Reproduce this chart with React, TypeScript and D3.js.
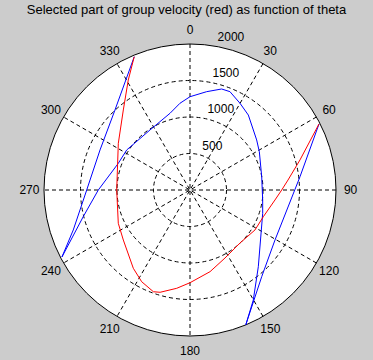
import React, { useEffect, useRef } from 'react';
import * as d3 from 'd3';

// polar data: theta in degrees (clockwise from top), r in velocity units
const blueTheta = [337.3, 316.8, 294.0, 270, 251.1, 242.4, 256.0, 270, 290.4, 302.3, 326.3, 345.4, 353.4, 0, 9.6, 17.4, 22.1, 30.0, 37.9, 53.1, 61.1, 79.5, 97.8, 107.8, 138.3, 150.1, 157.5, 140.4, 120.5, 83.1, 62.9];
const blueR = [1979, 1502, 1349, 1415, 1690, 1979, 1507, 1256, 1048, 1026, 988, 1086, 1196, 1278, 1366, 1450, 1454, 1371, 1301, 1142, 1085, 999, 1005, 1046, 1407, 1739, 1998, 1541, 1351, 1518, 1985];

const redTheta = [337.3, 330.7, 320.2, 303.1, 270, 245.1, 233.1, 215.9, 207.8, 199.8, 196.3, 187.7, 180, 166.2, 152.8, 136.7, 121.6, 110.0, 96.7, 90, 84.2, 74.7, 62.9];
const redR = [1979, 1728, 1427, 1172, 1004, 1083, 1142, 1324, 1420, 1481, 1460, 1359, 1270, 1152, 1048, 998, 1045, 1069, 1172, 1256, 1349, 1562, 1985];

const rings = [500, 1000, 1500, 2000];
const spokes = [0, 30, 60, 90, 120, 150];
const angleLabels = [0, 30, 60, 90, 120, 150, 180, 210, 240, 270, 300, 330];
const title = 'Selected part of group velocity (red) as function of theta';

export default function App() {
  const svgRef = useRef<SVGSVGElement>(null);

  useEffect(() => {
    if (!svgRef.current) return;
    const W = 373, H = 360;
    const cx = 190, cy = 190, R = 146;
    const font = '"Liberation Sans", Arial, Helvetica, sans-serif';

    d3.select(svgRef.current).selectAll('*').remove();
    const svg = d3.select(svgRef.current).attr('width', W).attr('height', H);

    svg.append('rect').attr('width', W).attr('height', H).attr('fill', '#cccccc');

    const r = d3.scaleLinear().domain([0, 2000]).range([0, R]);
    const rad = (deg: number) => (deg * Math.PI) / 180;
    const px = (deg: number, v: number) => [r(v) * Math.sin(rad(deg)), -r(v) * Math.cos(rad(deg))];

    const g = svg.append('g').attr('transform', `translate(${cx},${cy})`);

    // white plot disc
    g.append('circle').attr('r', R).attr('fill', '#ffffff');

    // dashed rings
    g.selectAll('.ring')
      .data(rings.slice(0, -1))
      .enter().append('circle')
      .attr('r', d => r(d))
      .attr('fill', 'none')
      .attr('stroke', '#000')
      .attr('stroke-width', 1)
      .attr('stroke-dasharray', '4,3');

    // spokes across the diameter
    g.selectAll('.spoke')
      .data(spokes)
      .enter().append('line')
      .attr('x1', d => px(d, 2000)[0])
      .attr('y1', d => px(d, 2000)[1])
      .attr('x2', d => px(d + 180, 2000)[0])
      .attr('y2', d => px(d + 180, 2000)[1])
      .attr('stroke', '#000')
      .attr('stroke-width', 1)
      .attr('stroke-dasharray', '4,3');

    // outer solid ring
    g.append('circle').attr('r', R).attr('fill', 'none').attr('stroke', '#000').attr('stroke-width', 1);

    // ring labels
    g.selectAll('.rlab')
      .data(rings)
      .enter().append('text')
      .attr('x', d => px(8, d + 25)[0] + 7)
      .attr('y', d => px(8, d + 25)[1] - 2.5)
      .attr('font-family', font)
      .attr('font-size', 12)
      .attr('fill', '#000')
      .text(d => String(d));

    // angle labels
    g.selectAll('.alab')
      .data(angleLabels)
      .enter().append('text')
      .attr('x', d => 1.1 * R * Math.sin(rad(d)))
      .attr('y', d => -1.1 * R * Math.cos(rad(d)))
      .attr('dy', '0.35em')
      .attr('text-anchor', 'middle')
      .attr('font-family', font)
      .attr('font-size', 12)
      .attr('fill', '#000')
      .text(d => String(d));

    const series = [
      { theta: blueTheta, rr: blueR, color: '#0000ff' },
      { theta: redTheta, rr: redR, color: '#ff0000' },
    ];
    series.forEach(s => {
      const idx = d3.range(s.theta.length);
      const path = d3.lineRadial<number>()
        .angle(i => rad(s.theta[i]))
        .radius(i => r(s.rr[i]));
      g.append('path')
        .datum(idx)
        .attr('fill', 'none')
        .attr('stroke', s.color)
        .attr('stroke-width', 1)
        .attr('d', path);
    });

    svg.append('text')
      .attr('x', 186.5)
      .attr('y', 14)
      .attr('text-anchor', 'middle')
      .attr('font-family', font)
      .attr('font-size', 13)
      .attr('fill', '#000')
      .text(title);
  }, []);

  return (
    <div style={{ position: 'absolute', left: 0, top: 0 }}>
      <svg ref={svgRef} style={{ display: 'block' }}></svg>
    </div>
  );
}
